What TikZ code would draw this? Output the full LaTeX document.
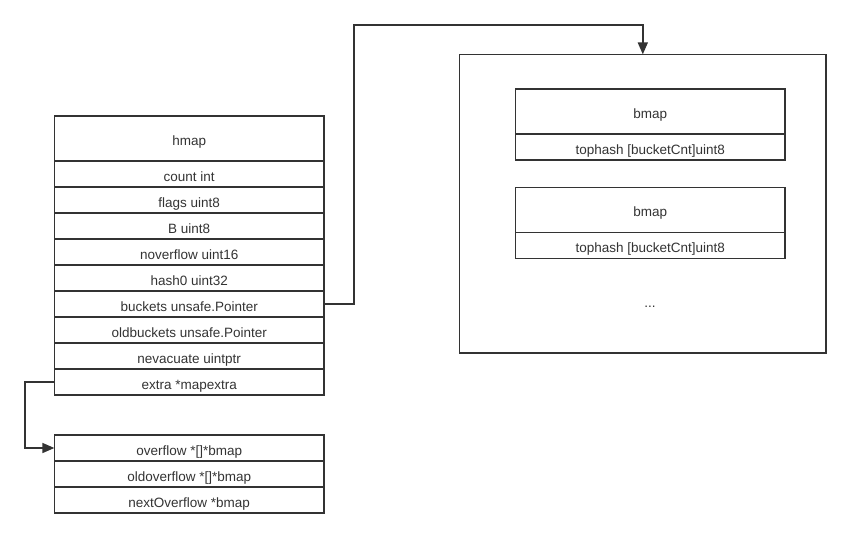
\documentclass[tikz,border=0pt]{standalone}
\usepackage{fontspec}
\setmainfont{Liberation Sans}
\usetikzlibrary{arrows.meta,positioning}
\definecolor{ink}{HTML}{333333}

\begin{document}
\begin{tikzpicture}[x=1pt,y=-1pt,font=\fontsize{13.5}{15}\selectfont,>={Triangle[length=12pt,width=10pt]},
  hd/.style={draw=ink,text=ink,line width=1.6pt,minimum width=269.7pt,minimum height=45pt,inner sep=0pt,outer sep=0pt,text height=14pt,text depth=0pt},
  fl/.style={draw=ink,text=ink,line width=1.6pt,minimum width=269.7pt,minimum height=26pt,inner sep=0pt,outer sep=0pt,text height=14pt,text depth=0pt},
  ln/.style={draw=ink,line width=1.6pt}]
\useasboundingbox (0,0) rectangle (850,538);
% hmap struct
\node[hd] (hmap) at (189.2,138.5) {hmap};
\foreach \n/\t [remember=\n as \p (initially hmap)] in {cnt/count int,flg/flags uint8,bb/B uint8,novf/noverflow uint16,
  hsh/hash0 uint32,bkt/buckets unsafe.Pointer,obkt/oldbuckets unsafe.Pointer,nev/nevacuate uintptr,ext/extra *mapextra}
  \node[fl,below=0pt of \p] (\n) {\t};
% mapextra
\node[fl] (ovf) at (189.2,448) {overflow *[]*bmap};
\node[fl,below=0pt of ovf] (oovf) {oldoverflow *[]*bmap};
\node[fl,below=0pt of oovf] (novf2) {nextOverflow *bmap};
% buckets array
\node[fl,minimum width=366.3pt,minimum height=298.7pt] (arr) at (642.8,203.7) {};
\node[hd] (bm1) at (650.2,111.7) {bmap};
\node[fl,below=0pt of bm1] (th1) {tophash [bucketCnt]uint8};
\node[hd] (bm2) at (650.2,209.8) {bmap};
\node[fl,below=0pt of bm2] (th2) {tophash [bucketCnt]uint8};
\node[text=ink,inner sep=0pt,text height=14pt,text depth=0pt] (dots) at (650,300) {...};
% pointers
\coordinate (up) at (354,25);
\coordinate (dn) at (25,420);
\draw[ln,->] (bkt.east) -| (up) -| (arr.north);
\draw[ln,->] (ext.west) -| (dn) |- (ovf.west);
\end{tikzpicture}
\end{document}
